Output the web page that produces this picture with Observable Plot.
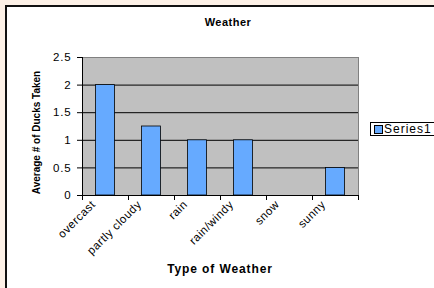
<!DOCTYPE html>
<html>
<head>
<meta charset="utf-8">
<script src="https://cdn.jsdelivr.net/npm/d3@7"></script>
<script src="https://cdn.jsdelivr.net/npm/@observablehq/plot@0.6"></script>
<style>
  html, body { margin: 0; padding: 0; width: 434px; height: 288px; overflow: hidden; background: #fdf1e7; font-family: "Liberation Sans", Arial, sans-serif; position: relative; }
  #frame { position: absolute; left: 5px; top: 5px; width: 429px; height: 283px; background: #fff; border-left: 2px solid #111; border-top: 2px solid #111; box-sizing: border-box; }
  #chart { position: absolute; left: 0; top: 0; }
  #chart svg { background: transparent !important; }
  #chart g[aria-label="y-axis tick label"] text { letter-spacing: 0.8px; }
  #chart g[aria-label="x-axis tick label"] text { letter-spacing: 0.5px; }
  .t { position: absolute; white-space: nowrap; font-weight: bold; text-align: center; }
  #title { left: 178px; width: 100px; top: 16px; font-size: 11px; letter-spacing: 0.5px; }
  #xtitle { left: 160px; width: 120px; top: 262px; font-size: 12px; letter-spacing: 0.9px; }
  #legend { position: absolute; left: 370px; top: 122px; width: 80px; height: 14px; border: 1px solid #000; background: #fff; box-sizing: border-box; font-size: 12px; line-height: 12px; letter-spacing: 1px; }
  #legend .sw { position: absolute; left: 3px; top: 2px; width: 7px; height: 7px; background: #66aaff; border: 1px solid #000; }
  #legend .tx { position: absolute; left: 13px; top: 0px; }
</style>
</head>
<body>
<div id="frame"></div>
<div id="chart"></div>
<div id="title" class="t">Weather</div>
<div id="xtitle" class="t">Type of Weather</div>
<div id="legend"><div class="sw"></div><div class="tx">Series1</div></div>
<script>
const categories = ["overcast", "partly cloudy", "rain", "rain/windy", "snow", "sunny"];
const values = [2, 1.25, 1, 1, 0, 0.5];
const yTicks = [0, 0.5, 1, 1.5, 2, 2.5];
const gridValues = [0.5, 1, 1.5, 2];
const yTitle = "Average # of Ducks Taken";

const data = categories.map((c, i) => ({i, category: c, value: values[i]}));
const bars = data.filter(d => d.value > 0);

const plot = Plot.plot({
  width: 434,
  height: 288,
  marginLeft: 82,
  marginRight: 76,
  marginTop: 57,
  marginBottom: 93,
  style: {background: "transparent", fontFamily: "Liberation Sans, Arial, sans-serif", color: "#000"},
  x: {type: "linear", domain: [0, categories.length]},
  y: {domain: [0, 2.5]},
  marks: [
    Plot.frame({fill: "#c0c0c0", stroke: "#808080"}),
    Plot.ruleY(gridValues, {stroke: "#000", strokeWidth: 1}),
    Plot.rectY(bars, {x1: "i", x2: d => d.i + 1, y: "value", fill: "#66aaff", stroke: "#000", strokeWidth: 0.8, insetLeft: 13.5, insetRight: 13.5}),
    Plot.ruleY([0], {stroke: "#000"}),
    Plot.ruleX([0], {stroke: "#000"}),
    Plot.axisY({ticks: yTicks, tickSize: 5, tickPadding: 6, fontSize: 11.5, tickFormat: d => String(d), label: null}),
    Plot.axisX({ticks: d3.range(0, categories.length + 1), tickSize: 5, tickFormat: () => "", label: null}),
    Plot.axisX({ticks: d3.range(categories.length).map(i => i + 0.5), tickSize: 0, tickPadding: 7, dx: -12, tickRotate: -45, fontSize: 11.5, tickFormat: d => categories[Math.floor(d)], label: null}),
    Plot.text([yTitle], {frameAnchor: "left", textAnchor: "middle", dx: -46, dy: 6, rotate: -90, fontWeight: "bold", fontSize: 10, text: d => d})
  ]
});
document.getElementById("chart").appendChild(plot);
</script>
</body>
</html>
